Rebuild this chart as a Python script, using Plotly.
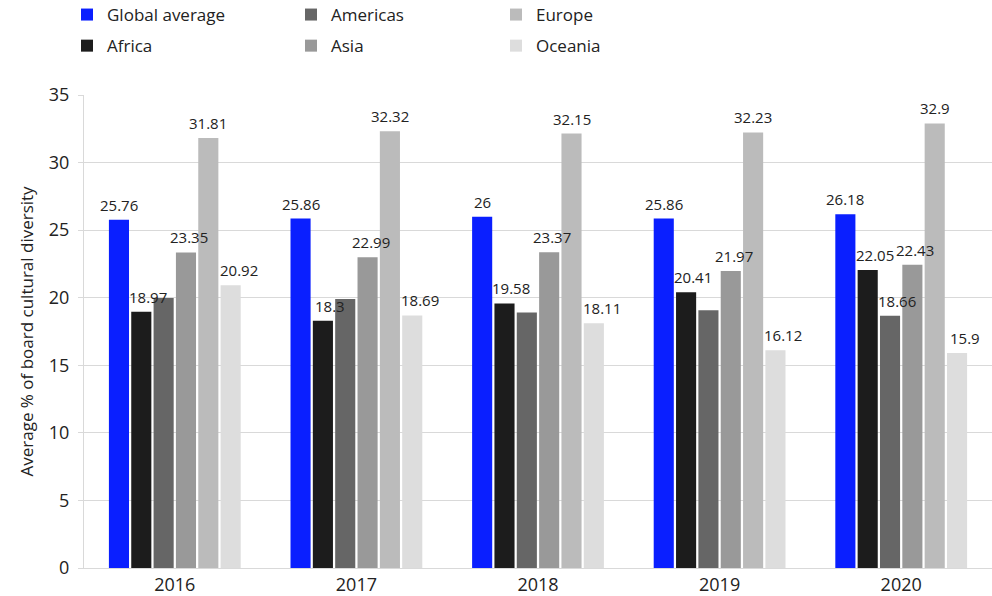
import plotly.graph_objects as go

years = ["2016", "2017", "2018", "2019", "2020"]
global_avg = [25.76, 25.86, 26.0, 25.86, 26.18]
africa = [18.97, 18.3, 19.58, 20.41, 22.05]
americas = [19.98, 19.9, 18.9, 19.08, 18.66]
asia = [23.35, 22.99, 23.37, 21.97, 22.43]
europe = [31.81, 32.32, 32.15, 32.23, 32.9]
oceania = [20.92, 18.69, 18.11, 16.12, 15.9]

# which labels are shown in the reference (Americas only labelled in 2020)
americas_labels = ["", "", "", "", "18.66"]

FONT = "Open Sans"
BARGAP = 0.262
BARGROUPGAP = 0.1
L, R, T, B = 84, 0, 95, 28
W, H = 992, 596
PLOT_H = H - T - B

# (name, values, colour, labels, legend, rank, label nudge px)
series = [
    ("Global average", global_avg, "#0a1fff", None, "legend", 1, 0),
    ("Africa", africa, "#1c1c1c", None, "legend", 2, 7),
    ("Americas", americas, "#666666", americas_labels, "legend2", 1, 7),
    ("Asia", asia, "#999999", None, "legend2", 2, 3),
    ("Europe", europe, "#bbbbbb", None, "legend3", 1, 0),
    ("Oceania", oceania, "#dddddd", None, "legend3", 2, 8),
]

fig = go.Figure()
n = len(series)
cat_px = (W - L - R) / len(years)
slot_px = cat_px * (1 - BARGAP) / n
annotations = []
for i, (name, vals, color, labels, leg, rank, nudge) in enumerate(series):
    if labels is None:
        labels = [f"{v:g}" for v in vals]
    fig.add_trace(go.Bar(
        name=name, x=years, y=vals, marker_color=color, marker_line_width=0,
        legend=leg, legendrank=rank, legendgroup=name,
    ))
    shift = (i - (n - 1) / 2) * slot_px + nudge
    for j, (v, lab) in enumerate(zip(vals, labels)):
        if lab:
            annotations.append(dict(
                x=j, y=v, text=lab, showarrow=False, xanchor="center",
                yanchor="bottom", xshift=shift, yshift=3,
                font=dict(family=FONT, size=15, color="#222222"),
            ))

annotations.append(dict(
    text="Average % of board cultural diversity", textangle=-90,
    xref="paper", yref="paper", x=(26 - L) / (W - L - R), y=0.5,
    xanchor="center", yanchor="middle", showarrow=False,
    font=dict(family=FONT, size=17, color="#222222"),
))

leg_top = (H - B + 3) / PLOT_H
leg_common = dict(orientation="v", xref="container", yref="paper",
                  xanchor="left", yanchor="top", y=leg_top,
                  traceorder="grouped", tracegroupgap=6,
                  font=dict(family=FONT, size=17, color="#222222"),
                  bgcolor="rgba(0,0,0,0)")

fig.update_layout(
    width=W, height=H,
    margin=dict(l=L, r=R, t=T, b=B, autoexpand=False),
    paper_bgcolor="white", plot_bgcolor="white",
    font=dict(family=FONT, color="#222222"),
    barmode="group", bargap=BARGAP, bargroupgap=BARGROUPGAP,
    legend=dict(x=67 / W, **leg_common),
    legend2=dict(x=291 / W, **leg_common),
    legend3=dict(x=496 / W, **leg_common),
    annotations=annotations,
    xaxis=dict(type="category", categoryorder="array", categoryarray=years,
               range=[-0.5, len(years) - 0.5],
               showline=True, linecolor="#d9d9d9", linewidth=1,
               tickfont=dict(family=FONT, size=18, color="#222222"),
               ticks="", showgrid=False),
    yaxis=dict(range=[0, 35], dtick=5, showgrid=True, gridcolor="#d9d9d9",
               showline=True, linecolor="#d9d9d9", linewidth=1,
               ticks="outside", ticklen=5, tickcolor="#d9d9d9",
               ticklabelstandoff=5,
               tickfont=dict(family=FONT, size=18, color="#222222"),
               zeroline=False),
)

fig.write_html("out.html")
